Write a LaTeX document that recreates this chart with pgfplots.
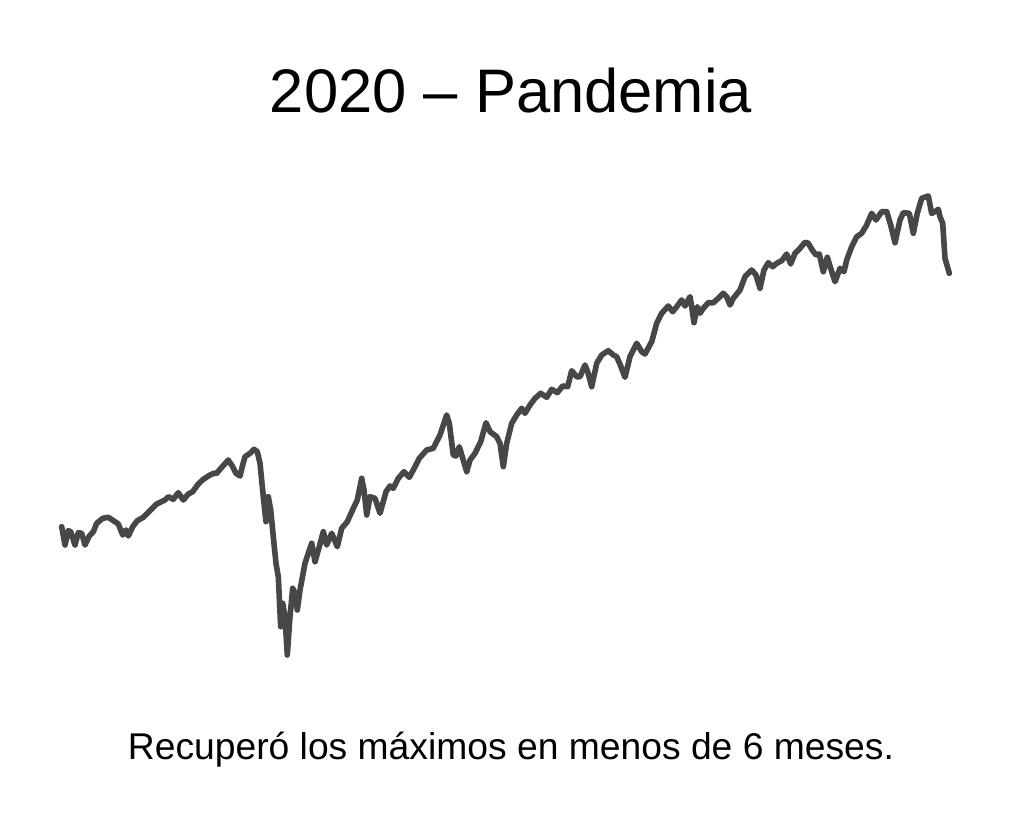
\documentclass[border=0pt]{standalone}
\usepackage{pgfplots}
\pgfplotsset{compat=1.18}
\usepackage{fontspec}
\setmainfont{Liberation Sans}
\definecolor{linegray}{HTML}{474747}

\begin{document}
\begin{tikzpicture}
\begin{axis}[
  scale only axis, width=10.24cm, height=8.25cm,
  xmin=0, xmax=1024, ymin=0, ymax=825, y dir=reverse,
  hide axis, clip=false]
% invisible frame so the page has the reference's size
\path (axis cs:0,0) rectangle (axis cs:1024,825);
\addplot[linegray, line width=1.6pt, line join=round, line cap=round, no markers] coordinates {
(61.7,526.7)(65,545)(68.3,530.7)(70.7,531.7)(75,545)(78.3,532.7)(81.7,533.3)(85,545)
(89.3,536)(93.3,531.7)(96.7,523.3)(102.7,518.3)(108.3,517.3)(115,521.7)(118.3,524)
(122.7,535)(126,530)(128.3,536)(132.7,526.7)(137.3,520.7)(143.3,517.3)(150,510.7)
(156.7,504)(165,500)(168.3,496.7)(173.3,499.3)(178.3,492.7)(183.3,500)(188.3,494)
(192.7,491.7)(198.3,484)(203.3,479.3)(210,475)(214,473.3)(216.7,473.3)(220,469.3)
(228.3,460)(232.7,466.7)(236,473.3)(240,476)(242.7,465)(245,456.7)(250,453.3)
(254,449.3)(257.3,451.7)(260,463.3)(263.3,496.7)(266,521.7)(268.3,496.7)(270.7,510)
(273.3,536.7)(276,563.3)(278.3,576.7)(280.7,626.7)(282.7,603.3)(285,616.7)(287.3,655)
(290,616.7)(292.7,588.3)(295,593.3)(297.3,610)(300,590)(305,563.3)(311.7,543.3)
(315,561.7)(319.3,546.7)(323.3,531.7)(326.7,545)(331.7,533.3)(337.3,546.7)(341.7,528.3)
(347.3,521.7)(353.3,508.3)(357.3,500)(361.7,478.3)(364,490)(366.7,515)(370,496.7)
(375,498.3)(380,513.3)(386,491.7)(390,486)(393.3,488.3)(398.3,478.3)(404,471.7)
(409.3,477.3)(413.3,470)(419.3,458.3)(426.7,450)(433.3,448.3)(440,435)(446.7,415)
(449.3,423.3)(453.3,455)(456,456)(459.3,446.7)(466.7,471.7)(470,460)(475,453.3)
(480.7,441.7)(486,422.7)(490,431.7)(496.7,436.7)(500,443.3)(503.3,466.7)(506.7,443.3)
(511.7,423.3)(516.7,415)(521.7,408.3)(525,413.3)(530,405)(535,398.3)(540.7,393.3)
(546.7,397.3)(551.7,389.3)(557.3,392.7)(562.7,386)(567.7,386.7)(571.7,370.7)(576.7,376.7)
(580,376.7)(585,365)(587.7,371.7)(591.7,386.7)(596.7,363.3)(601.7,355)(608.3,350.7)
(613.3,355)(616.7,356.7)(620.7,366)(625,377.3)(630,356.7)(636.7,343.3)(641.7,351.7)
(645,354)(651.7,341.7)(656.7,323.3)(661.7,313.3)(668.3,306)(672.7,311.7)(676.7,306.7)
(681.7,300)(685,306)(690,296.7)(691.7,306.7)(694,322.7)(697.3,306.7)(700,313.3)
(703.3,308.3)(708.3,302.7)(713.3,302.7)(718.3,298.3)(723.3,293.3)(726.7,296.7)(730,305)
(733.3,298.3)(740,290)(745,276.7)(751.7,270)(756,275)(760,288.3)(764,270)(768.3,262.7)
(772.7,266.7)(776.7,263.3)(781.7,260.7)(786.7,254)(790.7,264)(795,253.3)(800,248.3)
(805,242.3)(808.3,243.3)(812.7,250.7)(816,255)(819.3,254)(823.3,271.7)(827.3,257.3)
(830.7,268.3)(835,281.7)(840,268.3)(844,271.7)(846.7,260)(851.7,246.7)(856.7,236.7)
(861.7,233.3)(866.7,225)(871.7,213.3)(876,220)(881.7,211.7)(886.7,211.7)(890.7,225)
(895,242.7)(900,220)(903.3,212.7)(909.3,213.3)(913.3,233.3)(917.3,213.3)(921.7,198.3)
(928.3,196)(931.7,213.3)(935,211.7)(938.3,209.3)(940,216.7)(942.7,223.3)(945,258.3)
(949.3,273.3)
};
\node[anchor=center, font=\fontsize{17.5}{21}\selectfont] at (axis cs:511,91) {2020 – Pandemia};
\node[anchor=center, font=\fontsize{10.6}{13}\selectfont] at (axis cs:511,750) {Recuperó los máximos en menos de 6 meses.};
\end{axis}
\end{tikzpicture}
\end{document}
